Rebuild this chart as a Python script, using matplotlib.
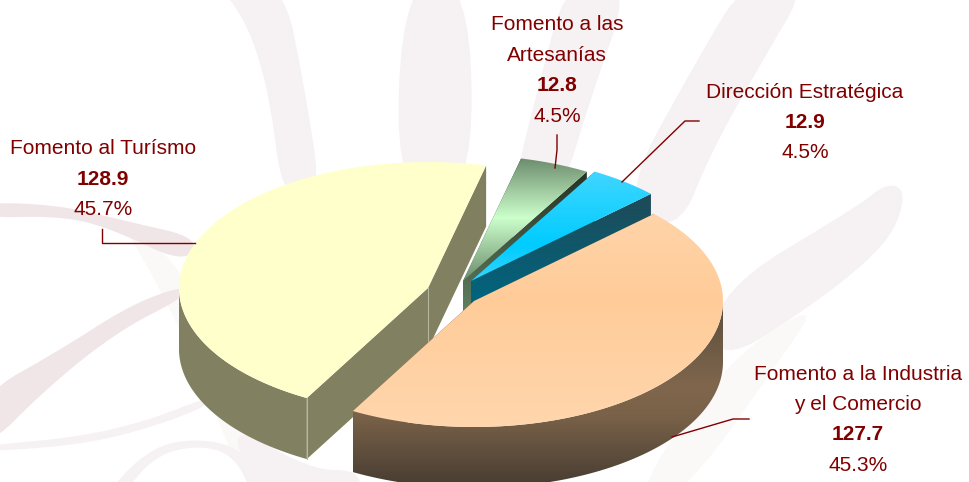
import numpy as np
import matplotlib
matplotlib.use("Agg")
import matplotlib.pyplot as plt
from matplotlib.patches import Polygon
from matplotlib.colors import to_rgb

# --- data -----------------------------------------------------------------
categories = ["Fomento al Turísmo", "Fomento a la Industria\ny el Comercio",
              "Dirección Estratégica", "Fomento a las\nArtesanías"]
values = [128.9, 127.7, 12.9, 12.8]
percent_labels = ["45.7%", "45.3%", "4.5%", "4.5%"]

# --- style / layout -------------------------------------------------------
W, H = 969, 482
START_ANGLE = 76.5
RX, RY, DEPTH = 249, 126, 61
slice_centers = [(428, 288), (474, 301), (471, 281), (463, 281)]
top_stops = [
    [(0, "#ffffcc"), (482, "#ffffcc")],
    [(175, "#ffd7b0"), (300, "#ffcc99"), (428, "#ffd6ad")],
    [(172, "#40d6ff"), (245, "#00ccff"), (282, "#38d4ff")],
    [(160, "#6f8f6f"), (218, "#ccffcc"), (282, "#6a8a6a")],
]
wall_stops = [
    [(0, "#808060"), (482, "#828262")],
    [(305, "#5c4e3d"), (385, "#7f664c"), (415, "#7a6249"), (482, "#4a3f33")],
    [(196, "#1f4a57"), (300, "#00657f")],
    [(175, "#263426"), (312, "#617f61")],
]
draw_order = [3, 2, 0, 1]
DARK_RED = "#800000"
RIBBON = "#f6f1f2"
RIBBON_DARK = "#f1e6e7"
RIBBON_FAINT = "#fbf8f8"

label_x = [103, 858, 805, 557]
label_y = [149, 374, 92, 25]
LINE_STEP = 30.4
leaders = [
    ([102, 102, 195], [229, 243, 243]),
    ([749, 733, 672], [419, 419, 437]),
    ([699, 685, 622], [121, 121, 182]),
    ([557, 557, 555], [135, 150, 168]),
]

plt.rcParams["font.family"] = ["Liberation Sans", "DejaVu Sans"]
fig = plt.figure(figsize=(W / 100, H / 100), dpi=100, facecolor="white")
ax = fig.add_axes([0, 0, 1, 1])
ax.set_xlim(0, W)
ax.set_ylim(H, 0)
ax.axis("off")


def chaikin(pts, rounds=3):
    p = np.asarray(pts, dtype=float)
    for _ in range(rounds):
        q = np.roll(p, -1, axis=0)
        p = np.column_stack([0.75 * p + 0.25 * q, 0.25 * p + 0.75 * q]).reshape(-1, 2)
    return p


# --- background watermark ribbons ----------------------------------------
ribbons = [
    (RIBBON_FAINT, [(120, 222), (180, 262), (230, 380), (300, 500), (250, 500), (190, 350), (150, 270)]),
    (RIBBON, [(215, -20), (240, 13), (255, 45), (270, 100), (283, 200), (322, 200), (305, 90), (283, -20)]),
    (RIBBON, [(403, -20), (470, -20), (473, 200), (395, 200)]),
    (RIBBON, [(567, -20), (632, -20), (590, 100), (560, 200), (510, 200), (540, 80)]),
    (RIBBON, [(745, -20), (810, -20), (763, 60), (712, 150), (677, 235), (620, 200), (697, 60)]),
    (RIBBON, [(715, 292), (860, 205), (885, 184), (904, 188), (900, 218), (880, 250), (820, 300), (715, 368)]),
    (RIBBON_FAINT, [(725, 362), (820, 300), (780, 360), (680, 500), (630, 500)]),
    (RIBBON_DARK, [(-20, 202), (60, 205), (130, 222), (200, 238), (185, 264), (110, 228), (60, 216), (-20, 218)]),
    (RIBBON_DARK, [(185, 285), (130, 305), (60, 350), (-20, 395), (-20, 455), (50, 385), (120, 330), (185, 297)]),
    (RIBBON, [(-20, 446), (80, 437), (150, 420), (210, 396), (210, 405), (150, 428), (80, 445), (-20, 452)]),
    (RIBBON, [(100, 500), (150, 447), (200, 438), (245, 450), (270, 500), (255, 500), (235, 456), (200, 445), (155, 455), (118, 500)]),
    (RIBBON, [(225, 420), (310, 470), (360, 470), (360, 500), (262, 500)]),
]
for colour, pts in ribbons:
    ax.add_patch(Polygon(chaikin(pts), closed=True, facecolor=colour, edgecolor="none", zorder=0))


def gradient_poly(pts, stops, zorder):
    """Fill a polygon with a vertical colour gradient given as (pixel y, colour) stops."""
    pts = np.asarray(pts)
    xmin, xmax = pts[:, 0].min(), pts[:, 0].max()
    ymin, ymax = pts[:, 1].min(), pts[:, 1].max()
    rows = np.linspace(ymin, ymax, 256)
    ys = [s[0] for s in stops]
    cols = np.array([to_rgb(s[1]) for s in stops])
    img = np.stack([np.interp(rows, ys, cols[:, i]) for i in range(3)], axis=1)[:, None, :]
    im = ax.imshow(img, extent=(xmin, xmax, ymax, ymin), origin="upper",
                   aspect="auto", interpolation="bilinear", zorder=zorder)
    patch = Polygon(pts, closed=True, transform=ax.transData, facecolor="none", edgecolor="none")
    im.set_clip_path(patch)


def rim(cx, cy, a1, a2, n=160):
    t = np.radians(np.linspace(a1, a2, n))
    return np.column_stack([cx + RX * np.cos(t), cy - RY * np.sin(t)])


# --- pie slices from values ------------------------------------------------
total = sum(values)
spans = [v / total * 360 for v in values]
starts = START_ANGLE + np.concatenate([[0], np.cumsum(spans)[:-1]])

for order, i in enumerate(draw_order):
    cx, cy = slice_centers[i]
    a1, a2 = starts[i], starts[i] + spans[i]
    z = 2 + order * 4
    down = np.array([0, DEPTH])
    apex = np.array([cx, cy], dtype=float)
    for a in (a1, a2):
        p = rim(cx, cy, a, a, 1)[0]
        gradient_poly([apex, p, p + down, apex + down], wall_stops[i], z)
    for lo, hi in ((180, 360), (540, 720)):
        b1, b2 = max(a1, lo), min(a2, hi)
        if b2 > b1:
            r = rim(cx, cy, b1, b2)
            gradient_poly(np.vstack([r, (r + down)[::-1]]), wall_stops[i], z + 1)
    top = np.vstack([[apex], rim(cx, cy, a1, a2)])
    gradient_poly(top, top_stops[i], z + 2)
    if i == 0:
        p = rim(cx, cy, a2, a2, 1)[0]
        ax.plot([p[0], p[0]], [p[1], p[1] + DEPTH], color="#b5b5a0", lw=0.8, zorder=z + 2)
        ax.plot([cx, cx], [cy, cy + DEPTH], color="#b5b5a0", lw=0.8, zorder=z + 2)

ax.set_xlim(0, W)
ax.set_ylim(H, 0)

# --- leader lines and labels ----------------------------------------------
for xs, ys in leaders:
    ax.plot(xs, ys, color=DARK_RED, lw=1.0, zorder=30, solid_joinstyle="miter")

FS = 15
for i, name in enumerate(categories):
    y = label_y[i]
    for ln in name.split("\n"):
        ax.text(label_x[i], y, ln, ha="center", va="center", color=DARK_RED, fontsize=FS, zorder=31)
        y += LINE_STEP
    ax.text(label_x[i], y, f"{values[i]:.1f}", ha="center", va="center", color=DARK_RED,
            fontsize=FS, fontweight="bold", zorder=31)
    y += LINE_STEP
    ax.text(label_x[i], y, percent_labels[i], ha="center", va="center", color=DARK_RED,
            fontsize=FS, zorder=31)

fig.savefig("out.png", dpi=100, facecolor="white")
